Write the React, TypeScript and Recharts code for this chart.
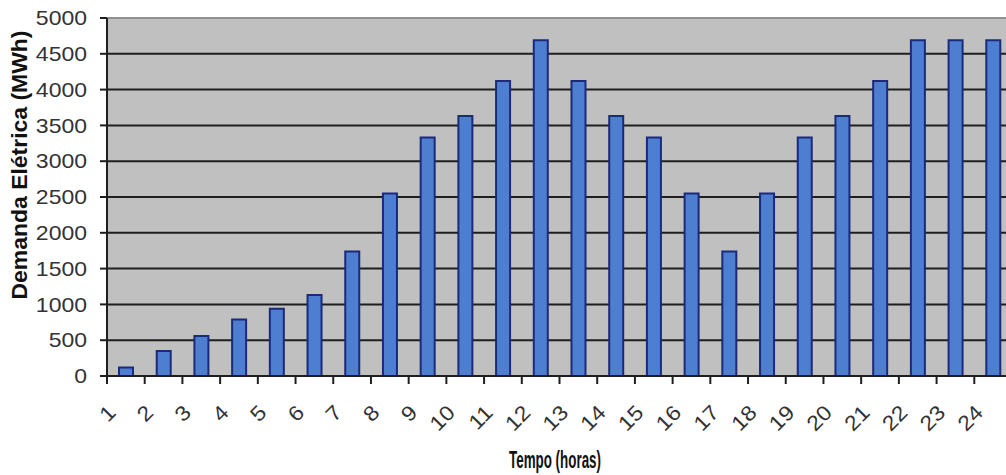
import { Bar, BarChart, CartesianGrid, Label, ReferenceLine, XAxis, YAxis } from "recharts";

// hourly electricity demand (MWh)
const hours = [
  "1", "2", "3", "4", "5", "6", "7", "8", "9", "10", "11", "12",
  "13", "14", "15", "16", "17", "18", "19", "20", "21", "22", "23", "24",
];
const demand = [
  120, 350, 560, 790, 940, 1130, 1740, 2550, 3330, 3630, 4120, 4690,
  4120, 3630, 3330, 2550, 1740, 2550, 3330, 3630, 4120, 4690, 4690, 4690,
];
const yTicks = [0, 500, 1000, 1500, 2000, 2500, 3000, 3500, 4000, 4500, 5000];

const data = hours.map((hora, i) => ({ hora, demanda: demand[i] }));

const CHART_W = 1040;
const CHART_H = 475;
const AXIS_W = 107;
const RIGHT = 28;
const INK = "#1e1e1e";
const TEXT = "#333";

function DemandTick({ x, y, payload }: any) {
  return (
    <g transform={`translate(${x - 11},${y}) scale(1.15,1)`}>
      <text
        textAnchor="end"
        dy="0.36em"
        fontFamily="'Liberation Sans', Arial, sans-serif"
        fontSize={20}
        fill={TEXT}
      >
        {payload.value}
      </text>
    </g>
  );
}

// hour labels sit on the left boundary of each category, like Excel's "between tick marks"
function HourTick({ x, y, payload }: any) {
  const half = payload.offset ?? (CHART_W - AXIS_W - RIGHT) / hours.length / 2;
  const edge = x - half;
  return (
    <g>
      <line x1={edge} y1={y} x2={edge} y2={y + 8} stroke={INK} strokeWidth={2} />
      <text
        transform={`translate(${edge + 10},${y + 38}) rotate(-45) scale(1.1,1)`}
        textAnchor="end"
        fontFamily="'Liberation Sans', Arial, sans-serif"
        fontSize={21}
        fill={TEXT}
      >
        {payload.value}
      </text>
    </g>
  );
}

export default function App() {
  return (
    <div
      style={{
        position: "absolute",
        left: 0,
        top: 0,
        width: 1006,
        height: 475,
        overflow: "hidden",
        background: "#fff",
      }}
    >
      <BarChart
        width={CHART_W}
        height={CHART_H}
        data={data}
        margin={{ top: 18, right: RIGHT, bottom: 0, left: 0 }}
        barSize={14}
      >
        <CartesianGrid vertical={false} stroke={INK} strokeWidth={2} fill="#c0c0c0" />
        <XAxis
          dataKey="hora"
          height={99}
          interval={0}
          tickSize={0}
          tickMargin={0}
          axisLine={{ stroke: INK, strokeWidth: 2 }}
          tickLine={false}
          tick={<HourTick />}
        >
          <Label
            content={() => (
              <text
                x={555}
                y={468}
                textAnchor="middle"
                textLength={92}
                lengthAdjust="spacingAndGlyphs"
                fontFamily="'Liberation Sans', Arial, sans-serif"
                fontWeight="bold"
                fontSize={24}
                fill="#111"
              >
                Tempo (horas)
              </text>
            )}
          />
        </XAxis>
        <YAxis
          width={AXIS_W}
          domain={[0, 5000]}
          ticks={yTicks}
          interval={0}
          tickSize={7}
          tickMargin={2}
          axisLine={{ stroke: INK, strokeWidth: 2 }}
          tickLine={{ stroke: INK, strokeWidth: 2 }}
          tick={<DemandTick />}
        >
          <Label
            content={() => (
              <text
                transform="translate(19,165) rotate(-90)"
                textAnchor="middle"
                dominantBaseline="central"
                textLength={269}
                lengthAdjust="spacingAndGlyphs"
                fontFamily="'Liberation Sans', Arial, sans-serif"
                fontWeight="bold"
                fontSize={22}
                fill="#111"
              >
                Demanda Elétrica (MWh)
              </text>
            )}
          />
        </YAxis>
        <ReferenceLine y={5000} stroke="#8f8f8f" strokeWidth={2} />
        <Bar
          dataKey="demanda"
          fill="#4d7ed0"
          stroke="#1b2a7a"
          strokeWidth={2}
          isAnimationActive={false}
        />
      </BarChart>
    </div>
  );
}
